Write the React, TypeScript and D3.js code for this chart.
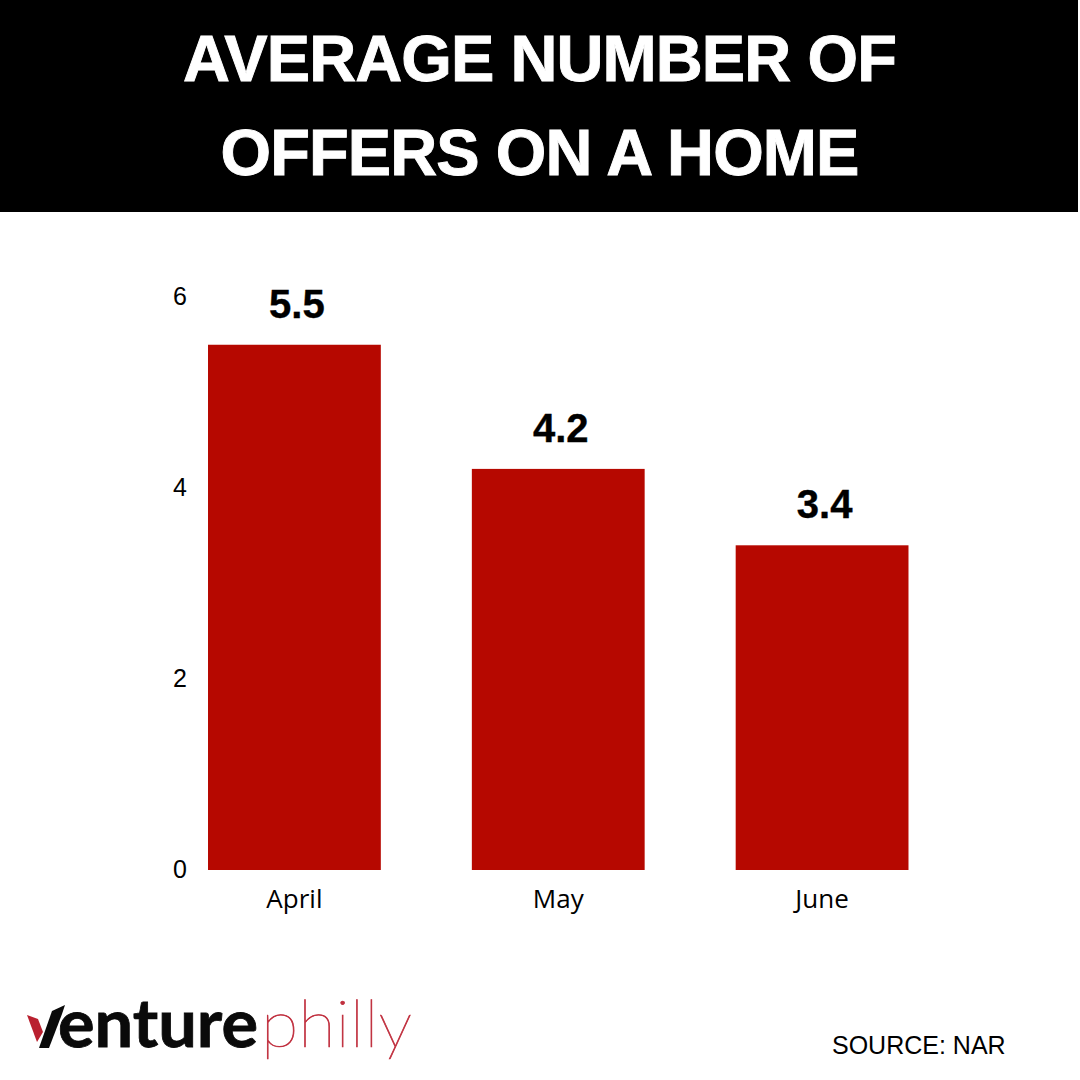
import { useEffect, useRef } from 'react';
import * as d3 from 'd3';

const months = ['April', 'May', 'June'];
const offers = [5.5, 4.2, 3.4];
const yTicks = [0, 2, 4, 6];
const titleLines = ['AVERAGE NUMBER OF', 'OFFERS ON A HOME'];

const SANS = '"Liberation Sans", Arial, sans-serif';

export default function App() {
  const svgRef = useRef<SVGSVGElement>(null);

  useEffect(() => {
    if (!svgRef.current) return;
    const svg = d3.select(svgRef.current);
    svg.selectAll('*').remove();

    // header band
    svg.append('rect').attr('width', 1078).attr('height', 212).attr('fill', '#000');
    svg.selectAll('text.title')
      .data(titleLines)
      .enter()
      .append('text')
      .attr('class', 'title')
      .attr('x', 539.5)
      .attr('y', (_, i) => 81 + i * 94)
      .attr('text-anchor', 'middle')
      .attr('font-family', SANS)
      .attr('font-weight', 700)
      .attr('font-size', 65)
      .attr('letter-spacing', -0.9)
      .attr('stroke', '#fff')
      .attr('stroke-width', 0.9)
      .attr('fill', '#fff')
      .text(d => d);

    const x = d3.scaleBand<string>().domain(months).range([162.5, 954]).paddingInner(0.345).paddingOuter(0.1725);
    const y = d3.scaleLinear().domain([0, 6]).range([870, 297]);

    svg.selectAll('rect.bar')
      .data(months)
      .enter()
      .append('rect')
      .attr('class', 'bar')
      .attr('x', d => x(d)!)
      .attr('width', x.bandwidth())
      .attr('y', (_, i) => y(offers[i]))
      .attr('height', (_, i) => y(0) - y(offers[i]))
      .attr('fill', '#b60800');

    // value labels above the bars
    svg.selectAll('text.value')
      .data(offers)
      .enter()
      .append('text')
      .attr('class', 'value')
      .attr('x', (_, i) => x(months[i])! + x.bandwidth() / 2 + 2.5)
      .attr('y', d => y(d) - 27)
      .attr('text-anchor', 'middle')
      .attr('font-family', SANS)
      .attr('font-weight', 700)
      .attr('font-size', 40)
      .attr('stroke', '#000')
      .attr('stroke-width', 0.4)
      .attr('fill', '#000')
      .text(d => d.toFixed(1));

    svg.selectAll('text.ytick')
      .data(yTicks)
      .enter()
      .append('text')
      .attr('class', 'ytick')
      .attr('x', 180)
      .attr('y', d => y(d) + 8)
      .attr('text-anchor', 'middle')
      .attr('font-family', SANS)
      .attr('font-size', 25)
      .attr('fill', '#000')
      .text(d => d);

    svg.selectAll('text.xtick')
      .data(months)
      .enter()
      .append('text')
      .attr('class', 'xtick')
      .attr('x', d => x(d)! + x.bandwidth() / 2)
      .attr('y', 908)
      .attr('text-anchor', 'middle')
      .attr('font-family', '"Open Sans", sans-serif')
      .attr('font-size', 26)
      .attr('fill', '#000')
      .text(d => d);

    svg.append('text')
      .attr('x', 832)
      .attr('y', 1054)
      .attr('font-family', SANS)
      .attr('font-size', 25)
      .attr('fill', '#000')
      .text('SOURCE: NAR');

    // logo
    const logo = svg.append('g');
    logo.append('path').attr('d', 'M27,1015 L38,1019 L43,1032 L37,1042 Z').attr('fill', '#b9202f');
    logo.append('path').attr('d', 'M65,1005 L62,1014 L49,1048 L39,1048 L52,1011 Z').attr('fill', '#0a0a0a');
    logo.append('text')
      .attr('x', 58)
      .attr('y', 1047)
      .attr('font-family', 'Lato, sans-serif')
      .attr('font-weight', 700)
      .attr('font-size', 66)
      .attr('textLength', 200)
      .attr('lengthAdjust', 'spacingAndGlyphs')
      .attr('stroke', '#0a0a0a')
      .attr('stroke-width', 0.8)
      .attr('fill', '#0a0a0a')
      .text('enture');
    logo.append('text')
      .attr('x', 261)
      .attr('y', 1047)
      .attr('font-family', 'Lato, sans-serif')
      .attr('font-weight', 100)
      .attr('font-size', 67)
      .attr('textLength', 151)
      .attr('lengthAdjust', 'spacingAndGlyphs')
      .attr('stroke', '#c0303f')
      .attr('stroke-width', 0.7)
      .attr('fill', '#c0303f')
      .text('philly');
  }, []);

  return <svg ref={svgRef} width={1080} height={1080} style={{ position: 'absolute', left: 0, top: 0, background: '#fff' }} />;
}
